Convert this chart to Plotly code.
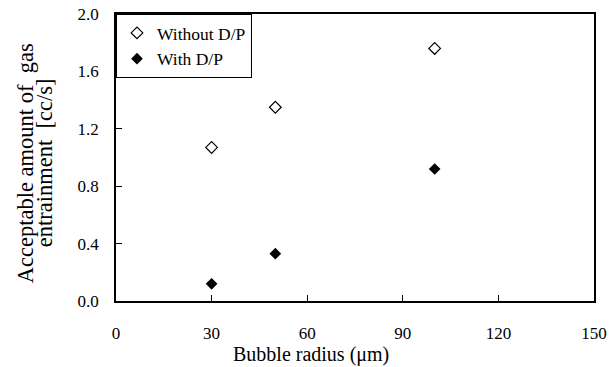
import plotly.graph_objects as go

radius = [30, 50, 100]
without_dp = [1.07, 1.35, 1.76]
with_dp = [0.12, 0.33, 0.92]
x_ticks = [0, 30, 60, 90, 120, 150]
y_ticks = [0.0, 0.4, 0.8, 1.2, 1.6, 2.0]
y_title_lines = ["Acceptable amount of  gas", "entrainment  [cc/s]"]
x_title = "Bubble radius (μm)"

font = "Liberation Serif"

fig = go.Figure()
fig.add_trace(go.Scatter(x=radius, y=without_dp, mode="markers", name="Without D/P",
                         marker=dict(symbol="diamond-open", size=9, color="black",
                                     line=dict(width=1.2, color="black"))))
fig.add_trace(go.Scatter(x=radius, y=with_dp, mode="markers", name="With D/P",
                         marker=dict(symbol="diamond", size=9, color="black")))

fig.update_layout(
    width=614, height=367,
    margin=dict(l=116, r=20, t=14, b=66, autoexpand=False),
    paper_bgcolor="white", plot_bgcolor="white",
    font=dict(family=font, size=17, color="black"),
    showlegend=True,
    legend=dict(x=0, y=1, xanchor="left", yanchor="top",
                bordercolor="black", borderwidth=1, bgcolor="white",
                font=dict(size=17.5, family=font, color="black"), itemwidth=30,
                tracegroupgap=0),
    xaxis=dict(range=[0, 150], tickvals=x_ticks, ticktext=[str(v) for v in x_ticks],
               ticks="inside", ticklen=6, tickcolor="black", tickwidth=1.2,
               showgrid=False, zeroline=False, showline=True, linecolor="black",
               linewidth=1.5, mirror=True, ticklabelstandoff=16, automargin=False,
               tickfont=dict(family=font, size=17, color="black")),
    yaxis=dict(range=[0, 2.0], tickvals=y_ticks, ticktext=[f"{v:.1f}" for v in y_ticks],
               ticks="inside", ticklen=6, tickcolor="black", tickwidth=1.2,
               showgrid=False, zeroline=False, showline=True, linecolor="black",
               linewidth=1.5, mirror=True, ticklabelstandoff=12, automargin=False,
               tickfont=dict(family=font, size=17, color="black")),
)

for line, xs in zip(y_title_lines, [-91, -72]):
    fig.add_annotation(text=line, xref="paper", yref="paper", x=0, y=0.48,
                       xanchor="center", yanchor="middle", xshift=xs,
                       textangle=-90, showarrow=False,
                       font=dict(size=22.5, family=font, color="black"))

fig.add_annotation(text=x_title, xref="paper", yref="paper", x=0.408, y=0,
                   xanchor="center", yanchor="top", yshift=-41,
                   showarrow=False, borderpad=0,
                   font=dict(size=20, family=font, color="black"))

fig.write_html("out.html", config={"displayModeBar": False},
               post_script="document.body.style.margin='0';")
